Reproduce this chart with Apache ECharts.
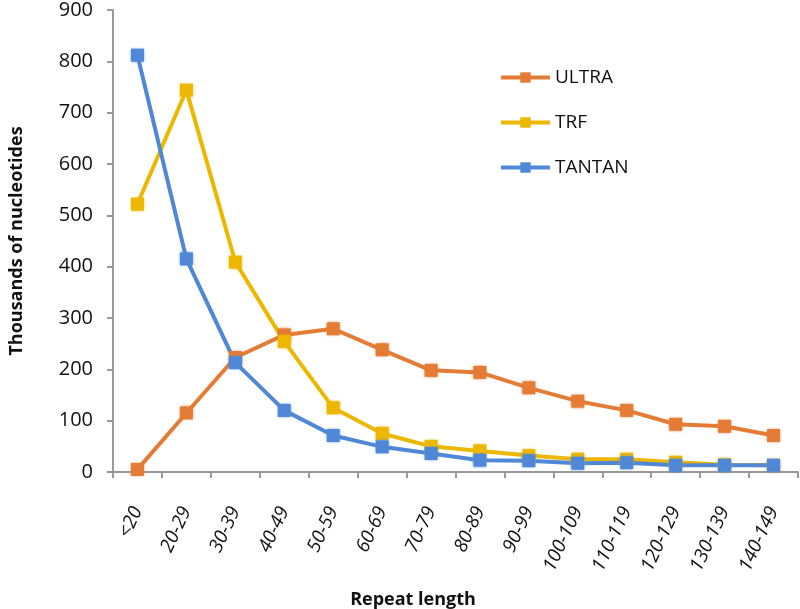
<!DOCTYPE html>
<html><head><meta charset="utf-8">
<script src="https://cdn.jsdelivr.net/npm/echarts@6/dist/echarts.min.js"></script>
<style>html,body{margin:0;padding:0;background:#fff}#c{width:800px;height:609px}</style>
</head><body><div id="c"></div>
<script>
const categories = ['<20','20-29','30-39','40-49','50-59','60-69','70-79','80-89','90-99','100-109','110-119','120-129','130-139','140-149'];
const ultra  = [5, 115, 223, 267, 279, 238, 198, 194, 164, 138, 120, 93, 89, 71];
const trf    = [522, 744, 409, 254, 125, 75, 50, 41, 32, 25, 25, 19, 14, 13];
const tantan = [812, 415, 213, 120, 71, 49, 36, 23, 22, 17, 18, 13, 13, 13];
const seriesNames = ['ULTRA','TRF','TANTAN'];
const colors = ['#E47C35','#EDB700','#4F88D6'];
const yTicks = {min:0, max:900, interval:100};

const font = 'Open Sans, Noto Sans, sans-serif';
const chart = echarts.init(document.getElementById('c'));
const mk = (name, data, color) => ({
  name, type:'line', data,
  symbol:'rect', symbolSize:13,
  lineStyle:{width:4, color},
  itemStyle:{color, shadowBlur:3, shadowColor:color},
  emphasis:{disabled:true},
  animation:false
});
chart.setOption({
  animation:false,
  color: colors,
  grid:{left:108, right:2, top:6, bottom:137, containLabel:false},
  legend:{
    orient:'vertical', left:499, top:68, itemGap:26, padding:0,
    itemWidth:49, itemHeight:13,
    lineStyle:{width:4},
    textStyle:{fontFamily:font, fontSize:19, color:'#111'},
    data: seriesNames
  },
  title:{text:'Repeat length', left:408, top:586, textAlign:'center',
    textStyle:{fontFamily:font, fontSize:18, fontWeight:'bold', color:'#111'}},
  xAxis:{
    type:'category', data:categories, boundaryGap:true,
    axisLine:{lineStyle:{color:'#999', width:2}},
    axisTick:{show:true, length:6, lineStyle:{color:'#999', width:2}},
    axisLabel:{rotate:65, fontFamily:font, fontSize:19, fontStyle:'italic', color:'#111', margin:36, interval:0}
  },
  yAxis:{
    type:'value', min:yTicks.min, max:yTicks.max, interval:yTicks.interval,
    name:'Thousands of nucleotides', nameLocation:'middle', nameGap:87,
    nameTextStyle:{fontFamily:font, fontSize:18, fontWeight:'bold', color:'#111'},
    axisLine:{show:true, lineStyle:{color:'#999', width:2}},
    axisTick:{show:true, length:6, lineStyle:{color:'#999', width:2}},
    splitLine:{show:false},
    axisLabel:{fontFamily:font, fontSize:20, color:'#111', margin:20}
  },
  series:[mk(seriesNames[0], ultra, colors[0]), mk(seriesNames[1], trf, colors[1]), mk(seriesNames[2], tantan, colors[2])]
});
</script></body></html>
